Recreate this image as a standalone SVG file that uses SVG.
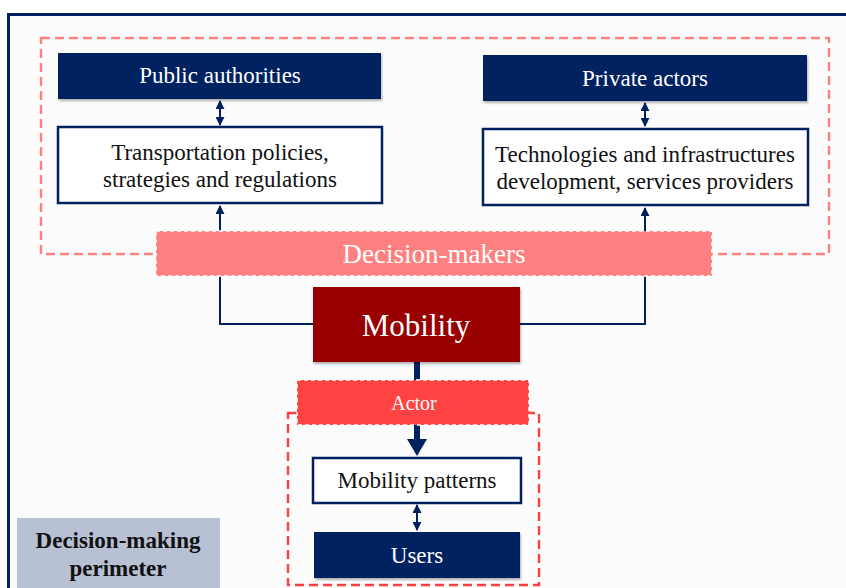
<svg xmlns="http://www.w3.org/2000/svg" width="846" height="588" viewBox="0 0 846 588">
<defs>
<filter id="sh" x="-5%" y="-10%" width="110%" height="130%">
<feDropShadow dx="1" dy="2" stdDeviation="1.2" flood-color="#000" flood-opacity="0.3"/>
</filter>
<marker id="ah" viewBox="0 0 10 10" refX="9" refY="5" markerWidth="4.5" markerHeight="4.5" orient="auto-start-reverse" markerUnits="strokeWidth">
<path d="M0,0 L10,5 L0,10 z" fill="#002060"/>
</marker>
</defs>
<style>
.t{font-family:"Liberation Serif","Times New Roman",serif;text-anchor:middle}
.navy{fill:#002060}
.wbox{fill:#ffffff;stroke:#002060;stroke-width:2.5}
.wt{fill:#ffffff}
.bt{fill:#111111}
.ln{fill:none;stroke:#002060;stroke-width:2}
</style>
<rect x="0" y="0" width="846" height="588" fill="#ffffff"/>
<rect id="frame" x="8.5" y="14.5" width="850" height="590" fill="#fcfcfc" stroke="#002060" stroke-width="3"/>

<g id="decision-perimeter">
<rect x="41" y="38" width="788" height="216" fill="none" stroke="#ff8080" stroke-width="2.4" stroke-dasharray="9,5"/>
</g>
<g id="actor-perimeter">
<rect x="288" y="413" width="251" height="172" fill="none" stroke="#ff4040" stroke-width="2.4" stroke-dasharray="9,5"/>
</g>

<g id="connectors">
<line class="ln" x1="220" y1="101" x2="220" y2="125" marker-start="url(#ah)" marker-end="url(#ah)"/>
<line class="ln" x1="645" y1="103" x2="645" y2="126" marker-start="url(#ah)" marker-end="url(#ah)"/>
<polyline class="ln" points="313,324 220,324 220,206" marker-end="url(#ah)"/>
<polyline class="ln" points="520,324 645,324 645,208" marker-end="url(#ah)"/>
<line x1="417" y1="362" x2="417" y2="440" stroke="#002060" stroke-width="6"/>
<path d="M407,439 L427,439 L417,456 z" fill="#002060"/>
<line class="ln" x1="417" y1="505" x2="417" y2="530" marker-start="url(#ah)" marker-end="url(#ah)"/>
</g>

<g id="public-authorities">
<rect x="58" y="53" width="323" height="46" class="navy" filter="url(#sh)"/>
<text class="t wt" x="220" y="83" font-size="23">Public authorities</text>
</g>
<g id="transportation">
<rect x="58" y="127" width="324" height="76" class="wbox"/>
<text class="t bt" x="220" y="160" font-size="23">Transportation policies,</text>
<text class="t bt" x="220" y="187" font-size="23">strategies and regulations</text>
</g>
<g id="private-actors">
<rect x="483" y="55" width="324" height="46" class="navy" filter="url(#sh)"/>
<text class="t wt" x="645" y="86" font-size="23">Private actors</text>
</g>
<g id="technologies">
<rect x="483" y="129" width="325" height="76" class="wbox"/>
<text class="t bt" x="645" y="162" font-size="23">Technologies and infrastructures</text>
<text class="t bt" x="645" y="189" font-size="23">development, services providers</text>
</g>
<g id="decision-makers">
<rect x="156" y="231" width="556" height="45" fill="#ff8080" stroke="#ffffff" stroke-width="1.5" stroke-dasharray="4,3"/>
<text class="t wt" x="434" y="263" font-size="27">Decision-makers</text>
</g>
<g id="mobility">
<rect x="313" y="287" width="207" height="75" fill="#990000" filter="url(#sh)"/>
<text class="t wt" x="416" y="336" font-size="31">Mobility</text>
</g>
<g id="actor">
<rect x="297" y="380" width="232" height="45" fill="#ff4343" stroke="#ffffff" stroke-width="1.5" stroke-dasharray="4,3"/>
<text class="t wt" x="414" y="410" font-size="20">Actor</text>
</g>
<g id="mobility-patterns">
<rect x="313" y="458" width="208" height="45" class="wbox"/>
<text class="t bt" x="417" y="488" font-size="23">Mobility patterns</text>
</g>
<g id="users">
<rect x="314" y="532" width="206" height="46" class="navy" filter="url(#sh)"/>
<text class="t wt" x="417" y="563" font-size="23">Users</text>
</g>
<g id="legend">
<rect x="17" y="518" width="203" height="80" fill="#b8c0d4"/>
<text class="t bt" x="118" y="548" font-size="23" font-weight="bold">Decision-making</text>
<text class="t bt" x="118" y="576" font-size="23" font-weight="bold">perimeter</text>
</g>
</svg>
